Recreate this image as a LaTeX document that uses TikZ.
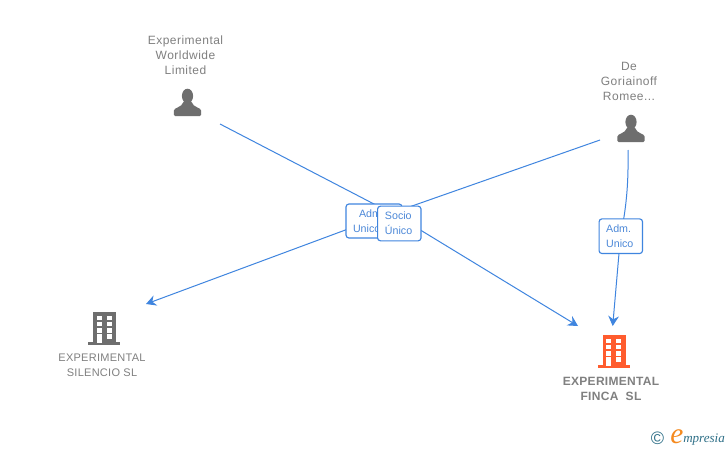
\documentclass[tikz,border=0pt]{standalone}
\usepackage{fontspec}
\setmainfont{Liberation Sans}
\newfontfamily\logofont{Liberation Serif}
\usetikzlibrary{arrows.meta}
\definecolor{linkblue}{HTML}{3F85DF}
\definecolor{labelblue}{HTML}{4C88D8}
\definecolor{namegrey}{HTML}{808080}
\definecolor{icongrey}{HTML}{6E6E6E}
\definecolor{iconorange}{HTML}{FF5C2E}
\definecolor{logoteal}{HTML}{2F7088}
\definecolor{logoorange}{HTML}{F58A1F}
\tikzset{
  x=0.75pt,y=-0.75pt,
  link/.style={draw=linkblue,line width=0.75pt},
  linkarrow/.style={link,-{Stealth[length=7.5pt,width=8pt,inset=2.5pt]}},
  rolebox/.style={draw=linkblue,line width=0.85pt,fill=white,rounded corners=2.2pt,inner sep=0pt,
    text=labelblue,font=\fontsize{8pt}{11.2pt}\selectfont,align=left},
  personname/.style={text=namegrey,align=center,inner sep=0pt,
    font=\fontsize{9pt}{11.3pt}\selectfont\addfontfeature{LetterSpace=4}},
  companyname/.style={text=namegrey,align=center,inner sep=0pt,
    font=\fontsize{8.25pt}{11.3pt}\selectfont\addfontfeature{LetterSpace=2.5}},
  mainname/.style={text=namegrey,align=center,inner sep=0pt,
    font=\fontsize{9pt}{11.3pt}\selectfont\bfseries\addfontfeature{LetterSpace=2.5}},
}
\newcommand{\personicon}[2]{%
  \begin{scope}[shift={(#1,#2)}]
    \fill[icongrey] (0,-20) ellipse (5.6 and 7.3);
    \fill[icongrey,rounded corners=1pt] (-13.7,0) -- (-13.7,-4) .. controls (-13.7,-8.5) and (-5.5,-8.5) .. (-4,-15)
      -- (4,-15) .. controls (5.5,-8.5) and (13.7,-8.5) .. (13.7,-4) -- (13.7,0) -- cycle;
  \end{scope}}
\newcommand{\buildingicon}[3]{%
  \begin{scope}[shift={(#1,#2)}]
    \fill[#3] (0,0) rectangle (23,32);
    \fill[#3] (-5,30) rectangle (27,32.5);
    \foreach \cx in {3.7,13.7} \foreach \cy in {3.7,9.8,16.3}
      \fill[white] (\cx,\cy) rectangle ++(5,4.4);
    \fill[white] (3.7,22.3) rectangle (8.7,31);
    \fill[white] (13.7,22.3) rectangle (18.7,27);
  \end{scope}}
\begin{document}
\begin{tikzpicture}
\useasboundingbox (0,0) rectangle (728,450);
\fill[white] (0,0) rectangle (728,450);

% icons
\personicon{187.5}{116}
\personicon{631}{142}
\buildingicon{93}{312}{icongrey}
\buildingicon{602.5}{335}{iconorange}

% connector ends
\coordinate (worldwide) at (220,124);
\coordinate (goriainoff) at (600,140);
\coordinate (goriainoffdown) at (628,150);
\coordinate (silencio) at (146,304);
\coordinate (finca) at (578,326);
\coordinate (fincatop) at (612.7,326);
\coordinate (bendone) at (399,217);
\coordinate (bendtwo) at (375,219);

% connectors
\draw[linkarrow] (worldwide) -- (bendone) -- (finca);
\draw[linkarrow] (goriainoff) -- (bendtwo) -- (silencio);
\draw[linkarrow] (goriainoffdown) .. controls (628.5,180) and (627,205) .. (620.5,236) -- (fincatop);

% role labels
\node[rolebox,minimum width=42pt,minimum height=25.5pt,text width=31.5pt] (admone) at (374,221)
  {\hspace{4.5pt}Adm.\\Unico};
\node[rolebox,minimum width=32.6pt,minimum height=26pt,text width=21.5pt] (socio) at (399.3,223.5)
  {Socio\\Único};
\node[rolebox,minimum width=32.6pt,minimum height=26pt,text width=22pt] (admtwo) at (620.8,236.2)
  {Adm.\\Unico};

% names
\node[personname] (nameworldwide) at (185.5,55) {Experimental\\Worldwide\\Limited};
\node[personname] (namegoriainoff) at (629,81) {De\\Goriainoff\\Romee...};
\node[companyname] (namesilencio) at (102,365) {EXPERIMENTAL\\SILENCIO SL};
\node[mainname] (namefinca) at (611,388.5) {EXPERIMENTAL\\FINCA\ \ SL};

% logo
\node[inner sep=0pt,text=logoteal,font=\fontsize{13.5pt}{14pt}\selectfont] (logoc) at (657.5,438.5) {©};
\node[inner sep=0pt,text=logoorange,font=\logofont\fontsize{22pt}{22pt}\selectfont\itshape] (logoe) at (677,437) {e};
\node[inner sep=0pt,text=logoteal,anchor=west,font=\logofont\fontsize{9.8pt}{10pt}\selectfont\itshape] (logotext) at (683,439.5) {mpresia};
\end{tikzpicture}
\end{document}
